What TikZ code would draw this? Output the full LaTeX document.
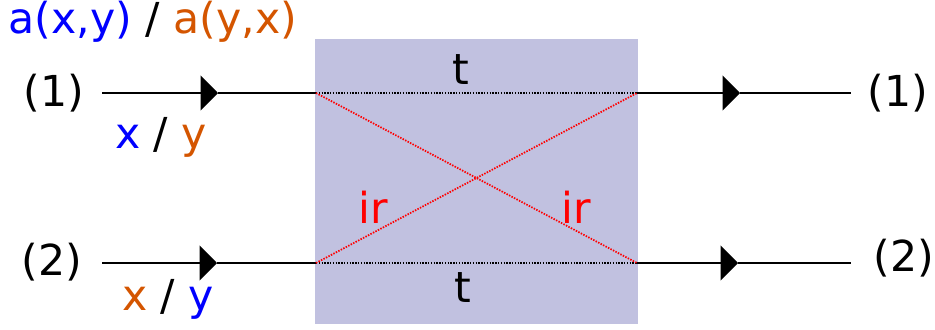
\documentclass[tikz,border=0pt]{standalone}
\usepackage{fontspec}
\setmainfont{DejaVu Sans}
\usetikzlibrary{arrows.meta}
\definecolor{boxfill}{RGB}{193,193,224}
\definecolor{myblue}{RGB}{0,0,255}
\definecolor{myorange}{RGB}{212,85,0}
\definecolor{myred}{RGB}{255,0,0}
\begin{document}
\begin{tikzpicture}[x=0.75pt,y=-0.75pt,
  lbl/.style={inner sep=0pt,font=\fontsize{32}{38}\selectfont},
  wire/.style={line width=1.6pt},
  arrowwire/.style={wire,-{Triangle[length=13pt,width=26pt]}},
  dotline/.style={line width=1.3pt,dash pattern=on 1.1pt off 1pt},
]
\useasboundingbox (0,0) rectangle (935,329);
% box
\fill[boxfill] (315,39) rectangle (638,324);
% coordinates
\coordinate (in1) at (102,93);
\coordinate (a1) at (218,93);
\coordinate (bl1) at (316,93);
\coordinate (br1) at (637,93);
\coordinate (b1) at (740,93);
\coordinate (out1) at (851,93);
\coordinate (in2) at (102,263);
\coordinate (a2) at (217,263);
\coordinate (bl2) at (316,263);
\coordinate (br2) at (637,263);
\coordinate (b2) at (738,263);
\coordinate (out2) at (851,263);
% wires
\draw[arrowwire] (in1) -- (a1);
\draw[wire] (a1) -- (bl1);
\draw[arrowwire] (br1) -- (b1);
\draw[wire] (b1) -- (out1);
\draw[arrowwire] (in2) -- (a2);
\draw[wire] (a2) -- (bl2);
\draw[arrowwire] (br2) -- (b2);
\draw[wire] (b2) -- (out2);
% inside
\draw[dotline,black] (bl1) -- (br1);
\draw[dotline,black] (bl2) -- (br2);
\draw[dotline,myred] (bl1) -- (br2);
\draw[dotline,myred] (bl2) -- (br1);
% labels
\node[lbl] (title) at (153,22) {\textcolor{myblue}{a(x,y)} / \textcolor{myorange}{a(y,x)}};
\node[lbl] (p1l) at (54,93) {(1)};
\node[lbl] (p1r) at (898,93) {(1)};
\node[lbl] (p2l) at (52,262) {(2)};
\node[lbl] (p2r) at (904,258) {(2)};
\node[lbl] (xy1) at (161,137) {\textcolor{myblue}{x} / \textcolor{myorange}{y}};
\node[lbl] (xy2) at (168,299) {\textcolor{myorange}{x} / \textcolor{myblue}{y}};
\node[lbl] (t1) at (461,70) {t};
\node[lbl] (t2) at (463,288) {t};
\node[lbl,text=myred] (ir1) at (373,207) {ir};
\node[lbl,text=myred] (ir2) at (576,207) {ir};
\end{tikzpicture}
\end{document}
